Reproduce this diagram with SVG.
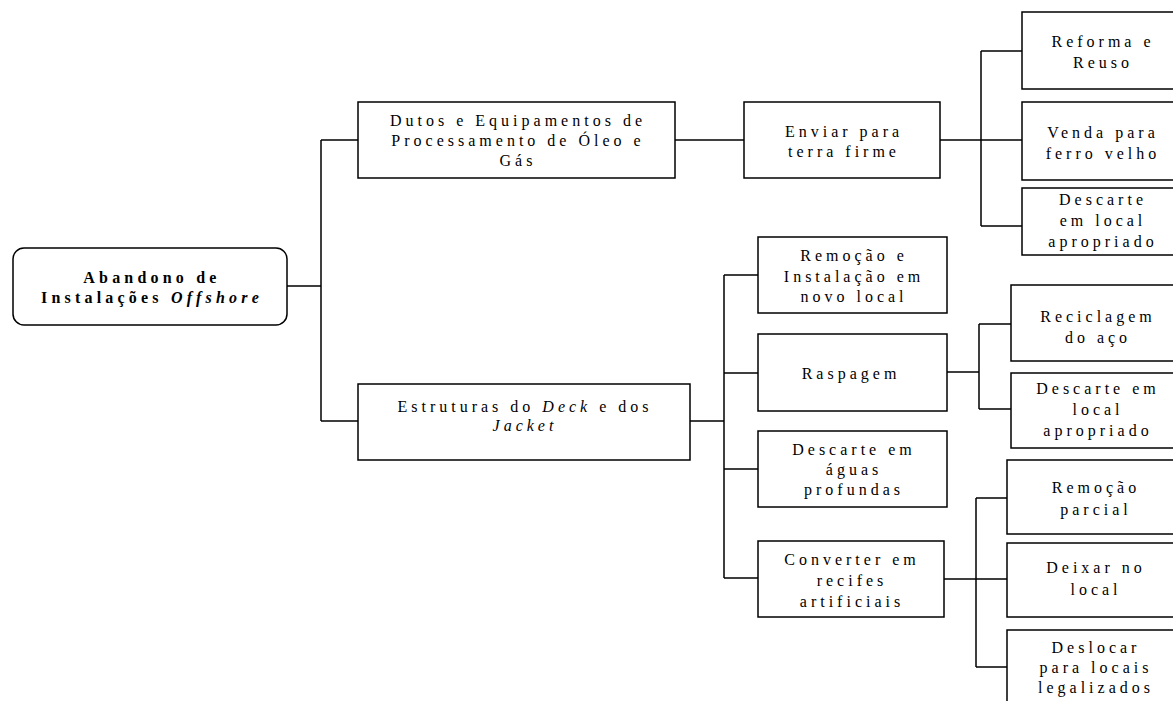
<svg xmlns="http://www.w3.org/2000/svg" width="1173" height="701" viewBox="0 0 1173 701">
<style>
.box{fill:#fff;stroke:#000;stroke-width:1.5}
.c{fill:none;stroke:#000;stroke-width:1.5}
text{font-family:"Liberation Serif","Times New Roman",serif;font-size:16px;letter-spacing:4px;text-anchor:middle;fill:#000}
.b{font-weight:bold;letter-spacing:4.2px}
.i{font-style:italic}
</style>
<rect width="1173" height="701" fill="#fff"/>
<g id="connectors">
<path class="c" d="M287 286H321M321 140V421M321 140H358M321 421H358"/>
<path class="c" d="M675 140H744"/>
<path class="c" d="M940 140H981M981 51V226M981 51H1022M981 140H1022M981 226H1022"/>
<path class="c" d="M690 421H724M724 275V578M724 275H758M724 373H758M724 469H758M724 578H758"/>
<path class="c" d="M947 372H979M979 324V409M979 324H1011M979 409H1011"/>
<path class="c" d="M944 579H976M976 498V667M976 498H1007M976 579H1007M976 667H1007"/>
</g>
<g id="root">
<rect class="box" x="13" y="248" width="274" height="77" rx="11"/>
<text class="b" x="152" y="283">Abandono de</text>
<text class="b" x="152" y="303">Instalações <tspan class="i">Offshore</tspan></text>
</g>
<g id="dutos">
<rect class="box" x="358" y="102" width="317" height="76"/>
<text x="518" y="126">Dutos e Equipamentos de</text>
<text x="518" y="146">Processamento de Óleo e</text>
<text x="518" y="166">Gás</text>
</g>
<g id="enviar">
<rect class="box" x="744" y="102" width="196" height="76"/>
<text x="844" y="137">Enviar para</text>
<text x="844" y="157">terra firme</text>
</g>
<g id="reforma">
<rect class="box" x="1022" y="12" width="160" height="77"/>
<text x="1103" y="47">Reforma e</text>
<text x="1103" y="68">Reuso</text>
</g>
<g id="venda">
<rect class="box" x="1022" y="102" width="160" height="78"/>
<text x="1103" y="138">Venda para</text>
<text x="1103" y="159">ferro velho</text>
</g>
<g id="descarte1">
<rect class="box" x="1022" y="188" width="160" height="67"/>
<text x="1103" y="205">Descarte</text>
<text x="1103" y="226">em local</text>
<text x="1103" y="247">apropriado</text>
</g>
<g id="estruturas">
<rect class="box" x="358" y="384" width="332" height="76"/>
<text x="525" y="412">Estruturas do <tspan class="i">Deck</tspan> e dos</text>
<text x="525" y="431" class="i">Jacket</text>
</g>
<g id="remocao">
<rect class="box" x="758" y="237" width="189" height="76"/>
<text x="854" y="261">Remoção e</text>
<text x="854" y="282">Instalação em</text>
<text x="854" y="302">novo local</text>
</g>
<g id="raspagem">
<rect class="box" x="758" y="334" width="189" height="77"/>
<text x="851" y="379">Raspagem</text>
</g>
<g id="aguas">
<rect class="box" x="758" y="431" width="189" height="76"/>
<text x="854" y="455">Descarte em</text>
<text x="854" y="475">águas</text>
<text x="854" y="495">profundas</text>
</g>
<g id="converter">
<rect class="box" x="758" y="541" width="186" height="76"/>
<text x="852" y="565">Converter em</text>
<text x="852" y="586">recifes</text>
<text x="852" y="607">artificiais</text>
</g>
<g id="reciclagem">
<rect class="box" x="1011" y="285" width="170" height="76"/>
<text x="1098" y="322">Reciclagem</text>
<text x="1098" y="343">do aço</text>
</g>
<g id="descarte2">
<rect class="box" x="1011" y="373" width="170" height="75"/>
<text x="1098" y="394">Descarte em</text>
<text x="1098" y="415">local</text>
<text x="1098" y="436">apropriado</text>
</g>
<g id="remocaoparcial">
<rect class="box" x="1007" y="460" width="174" height="74"/>
<text x="1096" y="493">Remoção</text>
<text x="1096" y="515">parcial</text>
</g>
<g id="deixar">
<rect class="box" x="1007" y="543" width="174" height="74"/>
<text x="1096" y="573">Deixar no</text>
<text x="1096" y="595">local</text>
</g>
<g id="deslocar">
<rect class="box" x="1007" y="630" width="174" height="76"/>
<text x="1096" y="653">Deslocar</text>
<text x="1096" y="673">para locais</text>
<text x="1096" y="693">legalizados</text>
</g>
</svg>
